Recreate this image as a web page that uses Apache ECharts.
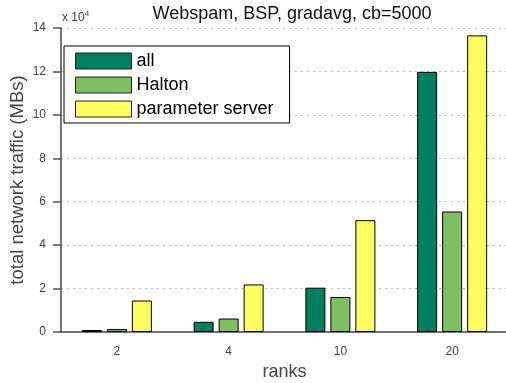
<!DOCTYPE html>
<html><head><meta charset="utf-8">
<script src="https://cdn.jsdelivr.net/npm/echarts@6/dist/echarts.min.js"></script>
<style>html,body{margin:0;padding:0;background:#fff}#c{width:506px;height:383px}</style>
</head><body><div id="c"></div>
<script>
const ranks = ['2', '4', '10', '20'];
const allVals = [900, 4700, 20400, 119800];
const haltonVals = [1400, 6200, 16100, 55500];
const psVals = [14500, 21900, 51500, 136600];
const yTicks = [0, 2, 4, 6, 8, 10, 12, 14];

const font = 'Liberation Sans, Arial, sans-serif';
const chart = echarts.init(document.getElementById('c'));
const bs = (name, vals, color) => ({
  name, type: 'bar', data: vals, barWidth: 20, barGap: '25%',
  itemStyle: { color, borderColor: '#000', borderWidth: 1 }
});
chart.setOption({
  animation: false,
  title: { text: 'Webspam, BSP, gradavg, cb=5000', left: 287, textAlign: 'center', top: 0,
    textStyle: { fontFamily: font, fontSize: 18, fontWeight: 'normal', color: '#111' } },
  grid: { left: 61, right: -2, top: 28, bottom: 51, outerBoundsMode: 'none', containLabel: false },
  legend: {
    orient: 'vertical', left: 64, top: 46, itemWidth: 56, itemHeight: 16, itemGap: 6,
    padding: [6, 16, 5, 11], borderColor: '#000', borderWidth: 1, backgroundColor: '#fff',
    icon: 'rect', textStyle: { fontFamily: font, fontSize: 18, lineHeight: 16, color: '#000' },
    itemStyle: { borderWidth: 1, borderColor: '#222' },
    data: ['all', 'Halton', 'parameter server']
  },
  xAxis: {
    type: 'category', data: ranks,
    name: 'ranks', nameLocation: 'middle', nameGap: 30,
    nameTextStyle: { fontFamily: font, fontSize: 18, color: '#444' },
    axisLine: { lineStyle: { color: '#444', width: 1.5 } },
    axisTick: { alignWithLabel: true, length: 8, lineStyle: { color: '#555', width: 1.5 } },
    axisLabel: { fontFamily: font, fontSize: 12, color: '#444', margin: 14 },
    splitLine: { show: false }
  },
  yAxis: {
    type: 'value', min: 0, max: 140000, interval: 20000,
    name: 'total network traffic (MBs)', nameLocation: 'middle', nameGap: 34, nameMoveOverlap: false,
    nameTextStyle: { fontFamily: font, fontSize: 18.5, color: '#444' },
    axisLine: { show: true, lineStyle: { color: '#444', width: 1.5 } },
    axisTick: { show: true, length: 8, lineStyle: { color: '#555', width: 1.5 } },
    axisLabel: { formatter: v => String(yTicks[Math.round(v / 20000)]), fontFamily: font, fontSize: 12, color: '#444', margin: 15 },
    splitLine: { show: true, showMinLine: false, lineStyle: { color: '#bbb', type: [2, 4], width: 1.2 } }
  },
  graphic: [{
    type: 'text', left: 62, top: 10,
    style: { text: '{a|x 10}{b|4}', rich: {
      a: { fontFamily: font, fontSize: 12, fill: '#444' },
      b: { fontFamily: font, fontSize: 8, fill: '#444', verticalAlign: 'top', padding: [0, 0, 7, 0] } } }
  }],
  series: [
    bs('all', allVals, '#007f5f'),
    bs('Halton', haltonVals, '#7fbf62'),
    bs('parameter server', psVals, '#ffff60')
  ]
});
</script></body></html>
